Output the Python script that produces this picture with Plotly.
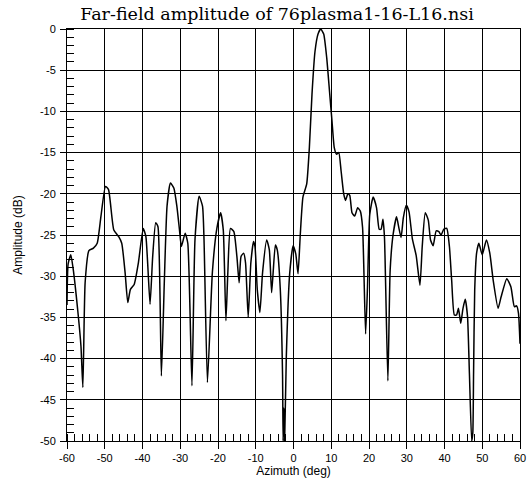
import plotly.graph_objects as go

azimuth = [
    -60.0, -59.7, -59.0, -58.4, -57.1, -56.3, -55.8, -55.2, -54.2, -53.0, -52.0, -51.0,
    -49.8, -49.0, -47.6, -46.3, -45.5, -44.6, -43.9, -43.2, -42.2, -41.1, -39.8, -39.1,
    -38.0, -37.3, -36.5, -35.9, -35.0, -34.2, -33.5, -32.6, -31.7, -30.9, -30.2, -29.7,
    -28.7, -28.0, -26.9, -26.1, -25.0, -24.1, -23.7, -22.8, -21.5, -20.3, -19.3, -18.6,
    -17.9, -17.4, -16.7, -15.8, -15.0, -14.4, -13.9, -13.2, -12.7, -12.0, -11.3, -10.6,
    -10.2, -9.6, -8.9, -8.2, -7.1, -6.4, -5.8, -5.4, -4.8, -4.3, -3.5, -2.9,
    -2.75, -2.55, -2.35, -1.9, -1.0, -0.1, 0.6, 1.2, 1.8, 2.5, 3.5, 4.2,
    4.9, 5.7, 6.5, 7.2, 8.0, 8.8, 9.6, 10.2, 10.8, 11.4, 12.0, 12.6,
    13.3, 13.8, 14.4, 14.9, 15.5, 16.2, 17.0, 17.7, 18.3, 19.1, 19.6, 20.2,
    21.1, 22.0, 22.7, 23.2, 23.7, 24.1, 25.0, 25.6, 26.4, 27.3, 27.9, 28.5,
    29.1, 29.9, 30.6, 31.5, 32.5, 33.5, 34.1, 34.9, 35.7, 36.3, 37.0, 37.8,
    38.5, 39.1, 39.8, 40.6, 41.3, 41.9, 42.6, 43.2, 43.7, 44.3, 44.9, 45.5,
    46.1, 46.6, 47.2, 47.5, 47.7, 48.0, 48.5, 49.1, 50.0, 51.1, 52.0, 52.9,
    54.2, 55.0, 56.5, 57.6, 58.5, 59.1, 59.6, 60.0,
]

amplitude_db = [
    -33.5, -28.5, -27.4, -29.0, -34.4, -38.5, -43.5, -30.8, -26.9, -26.6, -26.0, -22.7,
    -19.1, -19.5, -24.4, -25.2, -26.0, -29.6, -33.2, -31.6, -31.0, -28.4, -24.2, -25.2,
    -33.4, -27.6, -23.5, -24.0, -42.1, -30.4, -21.5, -18.7, -19.3, -21.5, -24.4, -26.4,
    -24.8, -26.0, -43.3, -25.6, -20.3, -21.5, -25.6, -42.9, -29.6, -24.2, -22.3, -24.4,
    -35.4, -29.6, -24.2, -24.6, -27.6, -30.8, -27.6, -27.2, -28.4, -35.0, -28.4, -25.8,
    -26.4, -31.6, -34.4, -29.6, -25.6, -26.8, -32.0, -29.6, -26.2, -26.8, -31.6, -42.0,
    -50.0, -46.0, -50.0, -39.7, -29.6, -26.3, -27.3, -29.7, -24.9, -20.4, -18.8, -14.4,
    -7.9, -2.7, -0.6, 0.0, -0.6, -3.5, -7.9, -11.2, -14.4, -15.2, -15.0, -17.2,
    -20.0, -20.8, -20.0, -20.2, -22.3, -22.7, -21.7, -22.1, -24.1, -37.0, -31.4, -22.5,
    -20.4, -21.7, -24.3, -24.3, -23.1, -25.3, -42.7, -29.3, -24.9, -22.8, -24.1, -25.3,
    -22.9, -21.4, -22.2, -25.5, -27.5, -31.1, -26.4, -22.3, -23.2, -25.6, -26.3, -24.5,
    -24.6, -25.0, -24.3, -24.2, -26.4, -30.5, -34.7, -34.7, -33.9, -35.7, -33.9, -32.8,
    -34.9, -41.8, -50.0, -49.0, -41.8, -31.7, -27.2, -26.0, -27.4, -25.6, -27.2, -30.5,
    -33.9, -32.5, -30.3, -31.3, -33.7, -33.6, -34.5, -38.2,
]

x_ticks = [-60, -50, -40, -30, -20, -10, 0, 10, 20, 30, 40, 50, 60]
y_ticks = [0, -5, -10, -15, -20, -25, -30, -35, -40, -45, -50]

title_text = "Far-field amplitude of 76plasma1-16-L16.nsi"
x_title = "Azimuth (deg)"
y_title = "Amplitude (dB)"

fig = go.Figure()
fig.add_trace(go.Scatter(
    x=azimuth, y=amplitude_db, mode="lines",
    line=dict(color="black", width=1.5, shape="spline", smoothing=0.5),
    showlegend=False, hoverinfo="skip",
))

tick_font = dict(family="Liberation Sans, Arial, sans-serif", size=11, color="black")
label_font = dict(family="Liberation Sans, Arial, sans-serif", size=12, color="black")

fig.update_layout(
    width=528, height=483,
    margin=dict(l=67, r=8, t=29, b=42),
    paper_bgcolor="white", plot_bgcolor="white",
    title=dict(
        text=title_text, x=277 / 528, xanchor="center", xref="container",
        y=1 - 14 / 483, yanchor="middle", yref="container",
        font=dict(family="DejaVu Serif, serif", size=17.5, color="black"),
    ),
    xaxis=dict(
        range=[-60, 60], tickvals=x_ticks, ticktext=[str(v) for v in x_ticks],
        showgrid=True, gridcolor="black", gridwidth=1,
        showline=True, linecolor="black", linewidth=1, mirror=True,
        ticks="outside", ticklen=7, tickcolor="black",
        minor=dict(dtick=2, ticks="inside", ticklen=7, tickcolor="black", showgrid=False),
        tickfont=tick_font, zeroline=False, automargin=False,
        title=dict(text=x_title, font=label_font, standoff=0),
    ),
    yaxis=dict(
        range=[-50, 0], tickvals=y_ticks, ticktext=[str(v) for v in y_ticks],
        showgrid=True, gridcolor="black", gridwidth=1,
        showline=True, linecolor="black", linewidth=1, mirror=True,
        ticks="outside", ticklen=6, tickcolor="black", ticklabelstandoff=2,
        minor=dict(dtick=1, ticks="inside", ticklen=7, tickcolor="black", showgrid=False),
        tickfont=tick_font, zeroline=False, automargin=False,
        title=dict(text=y_title, font=label_font, standoff=14),
    ),
)

fig.write_html(
    "out.html",
    config={"displayModeBar": False, "staticPlot": True},
    post_script="document.body.style.margin='0';document.body.style.overflow='hidden';",
)
